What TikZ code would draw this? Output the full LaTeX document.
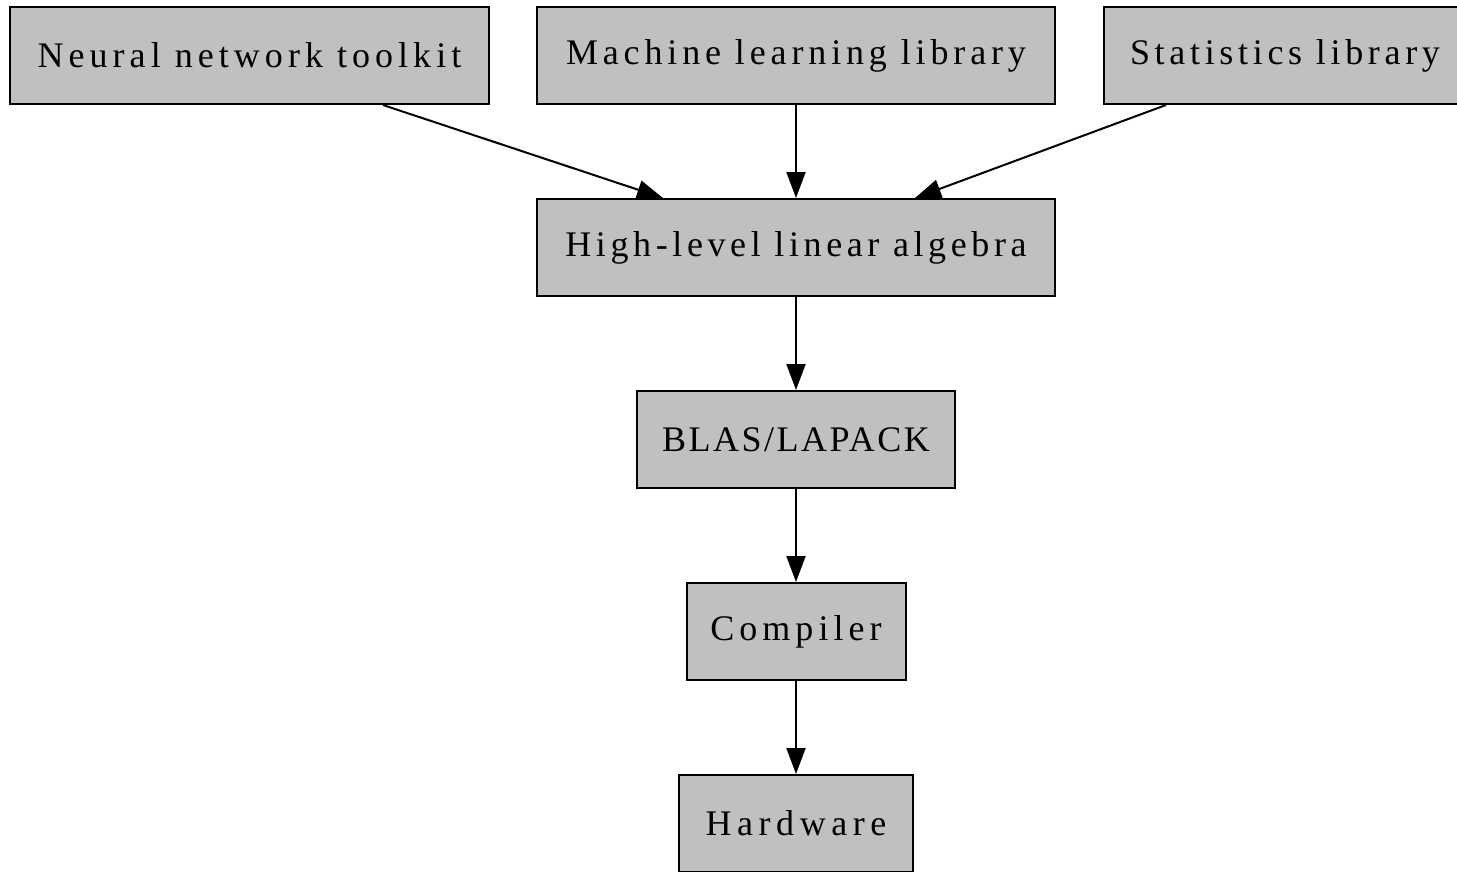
\documentclass[tikz,border=0pt]{standalone}
\usepackage{fontspec}
\setmainfont{Liberation Serif}
\usetikzlibrary{arrows.meta}
\definecolor{boxgray}{HTML}{C0C0C0}
\begin{document}
\begin{tikzpicture}[x=1pt,y=-1pt,
  box/.style={draw=black, fill=boxgray, line width=2pt, rectangle, inner sep=0pt,
    minimum height=97pt, font=\fontsize{36}{40}\selectfont},
  conn/.style={line width=2pt, -{Triangle[length=26pt,width=19pt]}}]
\clip (0,0) rectangle (1457,871);
\path[use as bounding box] (0,0) rectangle (1457,871);
\node[box, minimum width=479pt] (nn) at (249.5,55.5) {\addfontfeatures{LetterSpace=14}Neural network toolkit\hspace{-0.07em}};
\node[box, minimum width=518pt] (ml) at (796,55.5) {\addfontfeatures{LetterSpace=13.5}Machine learning library\hspace{-0.07em}};
\node[box, minimum width=362pt] (st) at (1285,55.5) {\addfontfeatures{LetterSpace=13}Statistics library\hspace{-0.07em}};
\node[box, minimum width=518pt] (hl) at (796,247.5) {\addfontfeatures{LetterSpace=12.8}High-level linear algebra\hspace{-0.07em}};
\node[box, minimum width=318pt] (bl) at (796,439.5) {\addfontfeatures{LetterSpace=7}BLAS/LAPACK\hspace{-0.035em}};
\node[box, minimum width=219pt] (co) at (796,631.5) {\addfontfeatures{LetterSpace=14}Compiler\hspace{-0.07em}};
\node[box, minimum width=234pt] (hw) at (796,823.5) {\addfontfeatures{LetterSpace=15.5}Hardware\hspace{-0.08em}};
\draw[conn] ([xshift=133.5pt]nn.south) -- ([xshift=-133pt]hl.north);
\draw[conn] (ml.south) -- (hl.north);
\draw[conn] ([xshift=-119pt]st.south) -- ([xshift=119pt]hl.north);
\draw[conn] (hl.south) -- (bl.north);
\draw[conn] (bl.south) -- (co.north);
\draw[conn] (co.south) -- (hw.north);
\end{tikzpicture}
\end{document}
